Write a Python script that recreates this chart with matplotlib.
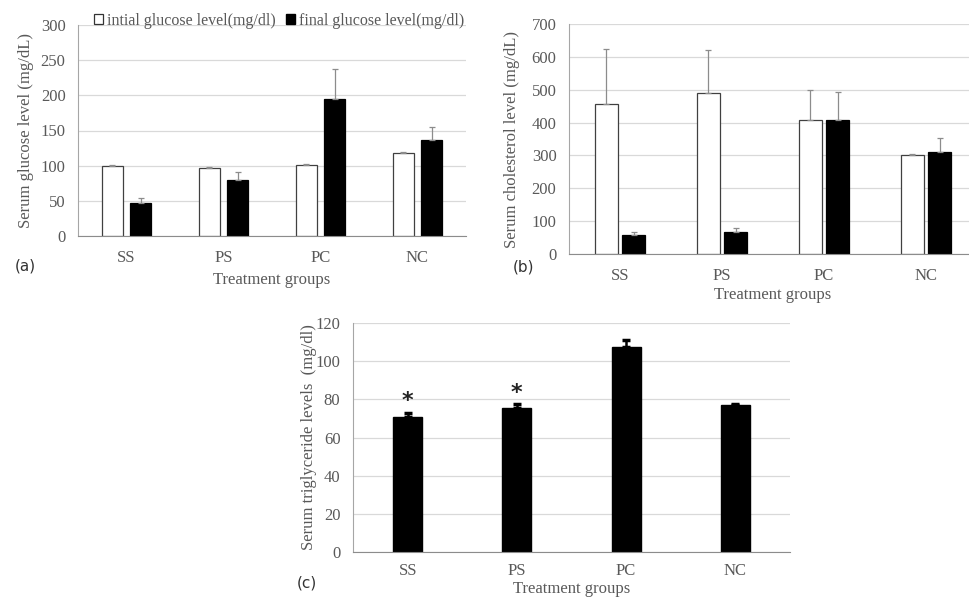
import numpy as np
import matplotlib.pyplot as plt

# Treatment groups
groups = ["SS", "PS", "PC", "NC"]

# (a) glucose (mg/dl)
glu_initial = [100, 97, 101, 118]
glu_initial_err = [1, 1, 1, 1]
glu_final = [47, 79, 195, 137]
glu_final_err = [7, 12, 42, 18]

# (b) cholesterol (mg/dL)
chol_initial = [455, 490, 408, 300]
chol_initial_err = [170, 132, 92, 3]
chol_final = [58, 68, 408, 310]
chol_final_err = [10, 10, 85, 43]

# (c) triglycerides (mg/dl)
tg = [71, 75.5, 107.5, 77]
tg_err = [2, 2, 3.5, 0.5]
tg_star = [True, True, False, False]

serif = "Liberation Serif"
txt = "#595959"
grid_c = "#d9d9d9"
err_c = "#8c8c8c"

W, H = 969, 597
fig = plt.figure(figsize=(W/100, H/100), dpi=100)

def box(l, r, t, b):
    return [l/W, 1-b/H, (r-l)/W, (b-t)/H]

def style(ax, ymax, step):
    ax.set_ylim(0, ymax)
    ax.set_yticks(np.arange(0, ymax+1, step))
    ax.set_xticks(range(len(groups)))
    ax.set_xticklabels(groups)
    ax.set_xlim(-0.5, len(groups)-0.5)
    ax.yaxis.grid(True, color=grid_c, lw=0.9)
    ax.set_axisbelow(True)
    for s in ["top", "right"]:
        ax.spines[s].set_visible(False)
    ax.spines["left"].set_color("#a6a6a6")
    ax.spines["bottom"].set_color("#8c8c8c")
    ax.tick_params(length=0, labelsize=12, labelcolor=txt)
    ax.tick_params(axis="y", pad=9)
    ax.tick_params(axis="x", pad=10)
    for lab in ax.get_xticklabels() + ax.get_yticklabels():
        lab.set_fontfamily(serif)

def labels(ax, ylab, xlab, yx, xy):
    ax.set_ylabel(ylab, fontfamily=serif, fontsize=12, color=txt)
    ax.yaxis.set_label_coords(yx, 0.5)
    ax.set_xlabel(xlab, fontfamily=serif, fontsize=12, color=txt, va="top")
    ax.xaxis.set_label_coords(0.5, xy)

def paired(ax, init, init_err, fin, fin_err, w, off):
    x = np.arange(len(groups))
    zeros = [0]*len(groups)
    ax.bar(x-off, init, w, color="white", edgecolor="#404040", lw=0.9,
           yerr=[zeros, init_err], ecolor=err_c,
           error_kw=dict(lw=0.9, capsize=2.5, capthick=0.9))
    ax.bar(x+off, fin, w, color="black", edgecolor="black", lw=0.9,
           yerr=[zeros, fin_err], ecolor=err_c,
           error_kw=dict(lw=0.9, capsize=2.5, capthick=0.9))

# panel a
axa = fig.add_axes(box(78, 466, 25, 236))
paired(axa, glu_initial, glu_initial_err, glu_final, glu_final_err, 0.225, 0.145)
style(axa, 300, 50)
labels(axa, "Serum glucose level (mg/dL)", "Treatment groups", -0.114, -0.17)
h1 = plt.Rectangle((0, 0), 1, 1, fc="white", ec="#333333", lw=0.9)
h2 = plt.Rectangle((0, 0), 1, 1, fc="black", ec="black")
fig.legend([h1, h2], ["intial glucose level(mg/dl)", "final glucose level(mg/dl)"],
           loc="center", bbox_to_anchor=(279/W, 1-21/H), ncol=2, frameon=False,
           prop=dict(family=serif, size=11.5), labelcolor=txt,
           handlelength=0.6, handleheight=0.6, handletextpad=0.25, columnspacing=0.6)
fig.text(15/W, 1-266/H, "(a)", fontsize=11, color="#333333", ha="left", va="center")

# panel b
axb = fig.add_axes(box(569, 977, 24, 254))
paired(axb, chol_initial, chol_initial_err, chol_final, chol_final_err, 0.225, 0.137)
style(axb, 700, 100)
labels(axb, "Serum cholesterol level (mg/dL)", "Treatment groups", -0.120, -0.143)
fig.text(524/W, 1-267/H, "(b)", fontsize=11, color="#333333", ha="center", va="center")

# panel c
axc = fig.add_axes(box(353, 790, 323, 552))
x = np.arange(len(groups))
axc.bar(x, tg, 0.265, color="black", edgecolor="black",
        yerr=[[0]*len(groups), tg_err], ecolor="black",
        error_kw=dict(lw=1.8, capsize=3, capthick=2.5))
style(axc, 120, 20)
axc.tick_params(axis="x", pad=8)
labels(axc, "Serum triglyceride levels  (mg/dl)", "Treatment groups", -0.082, -0.127)
for i, s in enumerate(tg_star):
    if s:
        axc.annotate("*", (i, tg[i]+tg_err[i]), xytext=(0, 1), textcoords="offset points",
                     ha="center", va="bottom", fontsize=16, fontweight="bold", color="#222222")
fig.text(307/W, 1-583/H, "(c)", fontsize=11, color="#333333", ha="center", va="center")

fig.savefig("out.png", dpi=100)
